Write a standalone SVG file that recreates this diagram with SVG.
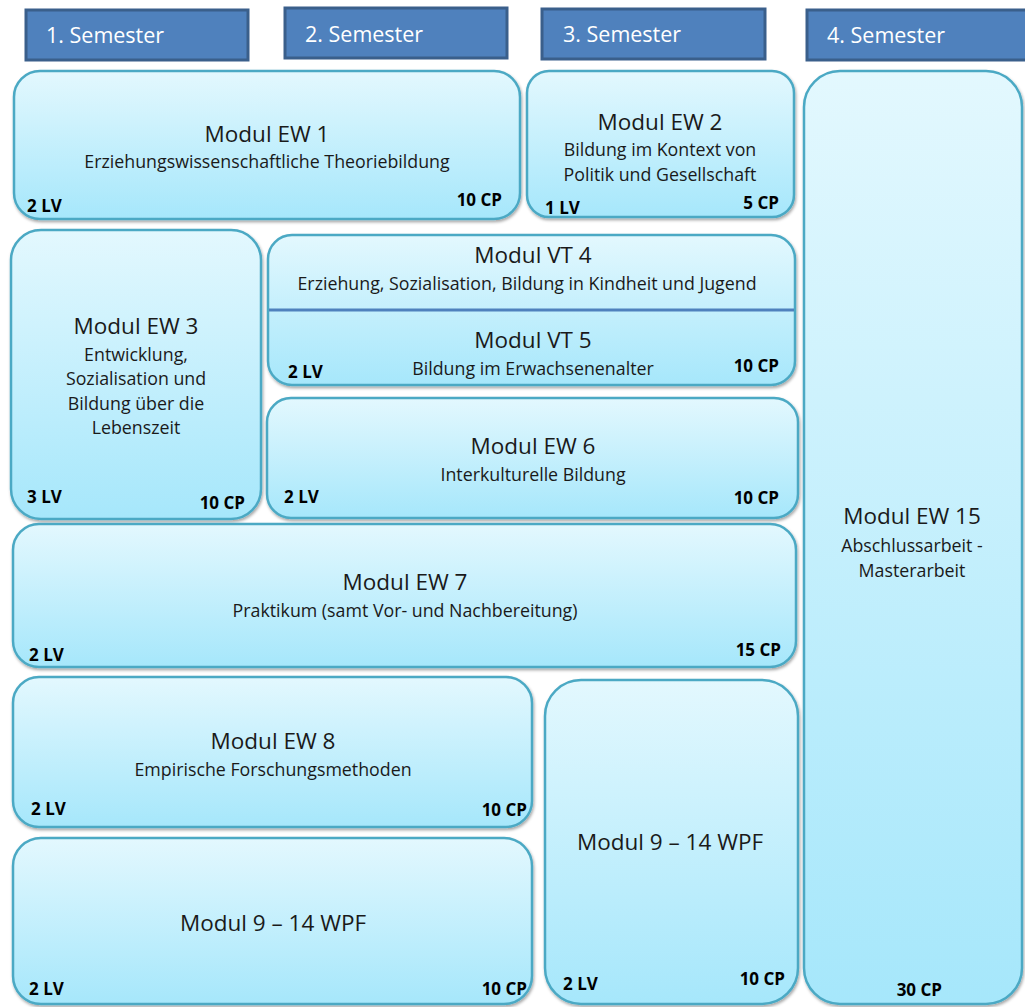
<svg xmlns="http://www.w3.org/2000/svg" width="1025" height="1007" viewBox="0 0 1025 1007">
<defs>
<linearGradient id="g" x1="0" y1="0" x2="0" y2="1">
<stop offset="0" stop-color="#e3f8fe"/>
<stop offset="1" stop-color="#a6e7fb"/>
</linearGradient>
<filter id="sh" x="-5%" y="-5%" width="110%" height="110%">
<feDropShadow dx="1" dy="2" stdDeviation="1.5" flood-color="#000" flood-opacity="0.35"/>
</filter>
<style>
.hd{fill:#4f81bd;stroke:#3a5f8b;stroke-width:3}
.ht{fill:#fff;font-family:"Open Sans",Lato,sans-serif;font-size:21.5px}
.bx{fill:url(#g);stroke:#4ba9c4;stroke-width:2.5;filter:url(#sh)}
.t1{font-family:"Open Sans",Lato,sans-serif;font-size:22.5px;fill:#1a1a1a;text-anchor:middle}
.t2{font-family:"Open Sans",Lato,sans-serif;font-size:17.8px;fill:#1a1a1a;text-anchor:middle}
.lv{font-family:"Open Sans",Lato,sans-serif;font-size:17px;font-weight:bold;fill:#000}
.cp{font-family:"Open Sans",Lato,sans-serif;font-size:17px;font-weight:bold;fill:#000;text-anchor:end}
</style>
</defs>
<rect width="1025" height="1007" fill="#fff"/>
<g id="headers">
<g id="sem1"><rect class="hd" x="26" y="10" width="222" height="50"/><text class="ht" x="46" y="43">1. Semester</text></g>
<g id="sem2"><rect class="hd" x="285" y="8" width="222" height="50"/><text class="ht" x="305" y="42">2. Semester</text></g>
<g id="sem3"><rect class="hd" x="542" y="9" width="223" height="50"/><text class="ht" x="563" y="42">3. Semester</text></g>
<g id="sem4"><rect class="hd" x="807" y="10" width="222" height="50"/><text class="ht" x="827" y="43">4. Semester</text></g>
</g>
<g id="ew1"><rect class="bx" x="14" y="71" width="506" height="148" rx="26"/>
<text class="t1" x="267" y="142">Modul EW 1</text>
<text class="t2" x="267" y="168">Erziehungswissenschaftliche Theoriebildung</text>
<text class="lv" x="27" y="212">2 LV</text><text class="cp" x="502" y="206">10 CP</text></g>
<g id="ew2"><rect class="bx" x="527" y="71" width="267" height="146" rx="22"/>
<text class="t1" x="660" y="130">Modul EW 2</text>
<text class="t2" x="660" y="156">Bildung im Kontext von</text>
<text class="t2" x="660" y="181">Politik und Gesellschaft</text>
<text class="lv" x="545" y="214">1 LV</text><text class="cp" x="779" y="209">5 CP</text></g>
<g id="ew3"><rect class="bx" x="11" y="230" width="250" height="289" rx="30"/>
<text class="t1" x="136" y="334">Modul EW 3</text>
<text class="t2" x="136" y="361">Entwicklung,</text>
<text class="t2" x="136" y="385">Sozialisation und</text>
<text class="t2" x="136" y="410">Bildung über die</text>
<text class="t2" x="136" y="434">Lebenszeit</text>
<text class="lv" x="27" y="503">3 LV</text><text class="cp" x="245" y="509">10 CP</text></g>
<g id="vt45"><rect class="bx" x="268" y="235" width="527" height="150" rx="24"/>
<line x1="269" y1="310" x2="794" y2="310" stroke="#4f81bd" stroke-width="3"/>
<text class="t1" x="533" y="263">Modul VT 4</text>
<text class="t2" x="527" y="290">Erziehung, Sozialisation, Bildung in Kindheit und Jugend</text>
<text class="t1" x="533" y="348">Modul VT 5</text>
<text class="t2" x="533" y="375">Bildung im Erwachsenenalter</text>
<text class="lv" x="288" y="378">2 LV</text><text class="cp" x="779" y="372">10 CP</text></g>
<g id="ew6"><rect class="bx" x="267" y="398" width="531" height="120" rx="24"/>
<text class="t1" x="533" y="454">Modul EW 6</text>
<text class="t2" x="533" y="481">Interkulturelle Bildung</text>
<text class="lv" x="284" y="503">2 LV</text><text class="cp" x="779" y="504">10 CP</text></g>
<g id="ew7"><rect class="bx" x="13" y="524" width="783" height="143" rx="26"/>
<text class="t1" x="405" y="590">Modul EW 7</text>
<text class="t2" x="405" y="617">Praktikum (samt Vor- und Nachbereitung)</text>
<text class="lv" x="29" y="661">2 LV</text><text class="cp" x="781" y="656">15 CP</text></g>
<g id="ew8"><rect class="bx" x="13" y="677" width="519" height="150" rx="26"/>
<text class="t1" x="273" y="749">Modul EW 8</text>
<text class="t2" x="273" y="776">Empirische Forschungsmethoden</text>
<text class="lv" x="31" y="815">2 LV</text><text class="cp" x="527" y="816">10 CP</text></g>
<g id="wpf1"><rect class="bx" x="13" y="838" width="519" height="166" rx="28"/>
<text class="t1" x="273" y="931">Modul 9 – 14 WPF</text>
<text class="lv" x="29" y="995">2 LV</text><text class="cp" x="527" y="995">10 CP</text></g>
<g id="wpf2"><rect class="bx" x="545" y="680" width="253" height="324" rx="36"/>
<text class="t1" x="670" y="850">Modul 9 – 14 WPF</text>
<text class="lv" x="563" y="990">2 LV</text><text class="cp" x="785" y="985">10 CP</text></g>
<g id="ew15"><rect class="bx" x="804" y="71" width="218" height="933" rx="36"/>
<text class="t1" x="912" y="524">Modul EW 15</text>
<text class="t2" x="912" y="552">Abschlussarbeit -</text>
<text class="t2" x="912" y="577">Masterarbeit</text>
<text class="cp" x="942" y="996">30 CP</text></g>
<g id="connectors"/>
</svg>
